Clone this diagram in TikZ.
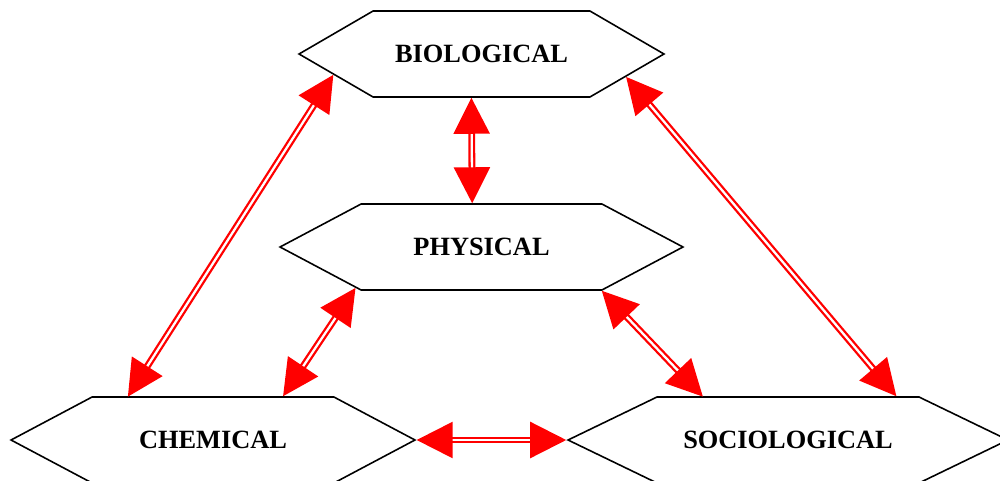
\documentclass[tikz,border=0pt]{standalone}
\usepackage{fontspec}
\setmainfont{Liberation Serif}
\usetikzlibrary{shapes.symbols,arrows.meta}

\tikzset{
  hexa/.style={signal, signal to=west and east, draw=black, line width=0.9pt, fill=white,
    minimum height=1.72cm, inner sep=0pt, font=\fontsize{15}{18}\selectfont\bfseries},
  linkarrow/.style={draw=red, double=white, line width=1.3pt, double distance=1.3pt,
    {Triangle[length=7.2mm,width=7.2mm]}-{Triangle[length=7.2mm,width=7.2mm]}}
}

\begin{document}
\begin{tikzpicture}[x=0.02cm, y=-0.02cm]
		\useasboundingbox (0,0) rectangle (1000,480);

		\node[hexa, minimum width=7.3cm, signal pointer angle=60.3] (bio) at (481.5,54) {BIOLOGICAL};
		\node[hexa, minimum width=8.06cm, signal pointer angle=55.9] (phys) at (481.5,247) {PHYSICAL};
		\node[hexa, minimum width=8.08cm, signal pointer angle=55.9] (chem) at (213,440) {CHEMICAL};
		\node[hexa, minimum width=8.8cm, signal pointer angle=51.6] (socio) at (788,440) {SOCIOLOGICAL};

		\draw[linkarrow] (bio.188.7) -- (chem.153.4);
		\draw[linkarrow] (bio.257.5) -- (phys.102.5);
		\draw[linkarrow] (bio.351.4) -- (socio.22.1);
		\draw[linkarrow] (phys.198.9) -- (chem.32.3);
		\draw[linkarrow] (phys.340.8) -- (socio.153.4);
		\draw[linkarrow] (chem.east) -- (socio.west);

	\end{tikzpicture}
\end{document}
